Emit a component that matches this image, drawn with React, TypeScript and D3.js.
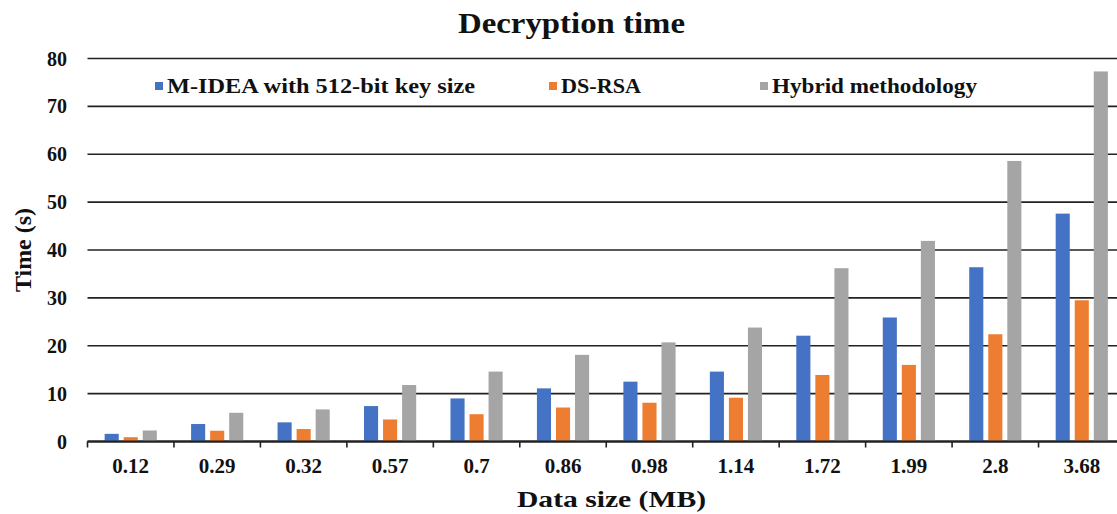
import React from "react";
import * as d3 from "d3";

const categories = ["0.12", "0.29", "0.32", "0.57", "0.7", "0.86", "0.98", "1.14", "1.72", "1.99", "2.8", "3.68"];
const seriesNames = ["M-IDEA with 512-bit key size", "DS-RSA", "Hybrid methodology"];
const mIdea = [1.6, 3.65, 4.0, 7.4, 9.0, 11.1, 12.5, 14.6, 22.1, 25.9, 36.4, 47.6];
const dsRsa = [0.9, 2.25, 2.6, 4.6, 5.7, 7.1, 8.1, 9.15, 13.9, 16.0, 22.4, 29.5];
const hybrid = [2.3, 6.0, 6.7, 11.8, 14.6, 18.1, 20.7, 23.8, 36.2, 41.9, 58.6, 77.3];
const yTicks = [0, 10, 20, 30, 40, 50, 60, 70, 80];
const colors = ["#4472C4", "#ED7D31", "#A5A5A5"];

const W = 1117;
const H = 514;
const FONT = "'Liberation Serif', 'Times New Roman', serif";

export default function App() {
  const series = [mIdea, dsRsa, hybrid];
  const x = d3.scaleBand<string>().domain(categories).range([87.5, 1125]).paddingInner(0).paddingOuter(0);
  const xi = d3
    .scaleBand<number>()
    .domain([0, 1, 2])
    .range([0, x.bandwidth()])
    .paddingInner(0.26)
    .paddingOuter(0.9);
  const y = d3.scaleLinear().domain([0, 80]).range([441.5, 58.5]);

  const legendX = [152, 546, 757];
  const legendTextLen = [308, 80, 205];

  return (
    <svg
      width={W}
      height={H}
      style={{ position: "absolute", left: 0, top: 0, background: "#fff" }}
      fontFamily={FONT}
    >
      <rect x={0} y={0} width={W} height={H} fill="#fff" />
      <text
        x={458}
        y={33}
        fontWeight="bold"
        fontSize={29}
        fill="#111"
        textLength={227}
        lengthAdjust="spacingAndGlyphs"
      >
        Decryption time
      </text>
      {yTicks.map((t) => (
        <g key={t}>
          <line x1={87.5} x2={W} y1={y(t)} y2={y(t)} stroke="#222" strokeWidth={t === 0 ? 1.8 : 1.6} />
          <text x={67} y={y(t)} dy="0.35em" textAnchor="end" fontWeight="bold" fontSize={20} fill="#111">
            {t}
          </text>
        </g>
      ))}
      {categories.map((c) => (
        <line
          key={"tk" + c}
          x1={x(c)!}
          x2={x(c)!}
          y1={y(0)}
          y2={y(0) + 6}
          stroke="#222"
          strokeWidth={1.6}
        />
      ))}
      {series.map((vals, si) =>
        vals.map((v, ci) => (
          <rect
            key={si + "-" + ci}
            x={x(categories[ci])! + xi(si)!}
            y={y(v)}
            width={xi.bandwidth()}
            height={y(0) - y(v)}
            fill={colors[si]}
          />
        ))
      )}
      <line x1={87.5} x2={W} y1={y(0)} y2={y(0)} stroke="#222" strokeWidth={1.8} />
      {categories.map((c) => (
        <text
          key={"xl" + c}
          x={x(c)! + x.bandwidth() / 2}
          y={473}
          textAnchor="middle"
          fontWeight="bold"
          fontSize={21}
          fill="#111"
        >
          {c}
        </text>
      ))}
      <text
        x={517}
        y={507}
        fontWeight="bold"
        fontSize={24}
        fill="#111"
        textLength={189}
        lengthAdjust="spacingAndGlyphs"
      >
        Data size (MB)
      </text>
      <text
        transform={`translate(31,250) rotate(-90)`}
        textAnchor="middle"
        fontWeight="bold"
        fontSize={24}
        fill="#111"
      >
        Time (s)
      </text>
      {seriesNames.map((n, i) => (
        <g key={n}>
          <rect x={legendX[i] + 3} y={82} width={8} height={8} fill={colors[i]} />
          <text
            x={legendX[i] + 15}
            y={93}
            fontWeight="bold"
            fontSize={20}
            fill="#111"
            textLength={legendTextLen[i]}
            lengthAdjust="spacingAndGlyphs"
          >
            {n}
          </text>
        </g>
      ))}
    </svg>
  );
}
